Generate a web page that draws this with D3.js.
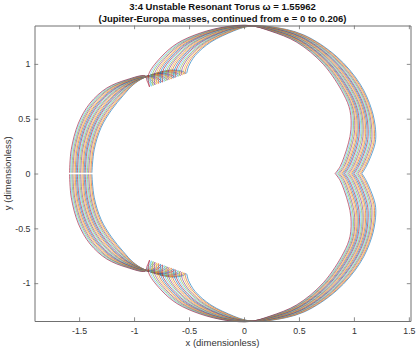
<!DOCTYPE html>
<html>
<head>
<meta charset="utf-8">
<title>3:4 Unstable Resonant Torus</title>
<script src="https://cdn.jsdelivr.net/npm/d3@7"></script>
<style>
  html, body { margin: 0; padding: 0; background: #fff; }
  svg { display: block; font-family: "Liberation Sans", Arial, sans-serif; }
</style>
</head>
<body>
<div id="chart"></div>
<script>
const titleLines = ["3:4 Unstable Resonant Torus ω = 1.55962", "(Jupiter-Europa masses, continued from e = 0 to 0.206)"];
const xLabel = "x (dimensionless)";
const yLabel = "y (dimensionless)";
const xTicks = [-1.5, -1, -0.5, 0, 0.5, 1, 1.5];
const yTicks = [-1, -0.5, 0, 0.5, 1];
const lineColors = ["#0072BD", "#D95319", "#EDB120", "#7E2F8E", "#77AC30", "#4DBEEE", "#A2142F"];

// Upper half of each orbit. Each row is one station along the
// orbit (left axis crossing -> over the top -> right cusp), with one value per family member.
const orbitX = [
  [-1.384,-1.394,-1.404,-1.414,-1.425,-1.435,-1.445,-1.455,-1.465,-1.475,-1.486,-1.496,-1.506,-1.516,-1.526,-1.536,-1.546,-1.557,-1.567,-1.577,-1.587],
  [-1.363,-1.373,-1.384,-1.394,-1.405,-1.415,-1.426,-1.436,-1.447,-1.457,-1.468,-1.478,-1.488,-1.499,-1.509,-1.520,-1.530,-1.541,-1.551,-1.562,-1.572],
  [-1.300,-1.310,-1.321,-1.331,-1.341,-1.352,-1.362,-1.372,-1.382,-1.393,-1.403,-1.413,-1.424,-1.434,-1.444,-1.455,-1.465,-1.475,-1.485,-1.496,-1.506],
  [-1.205,-1.215,-1.225,-1.234,-1.244,-1.254,-1.264,-1.273,-1.283,-1.293,-1.303,-1.312,-1.322,-1.332,-1.342,-1.351,-1.361,-1.371,-1.381,-1.390,-1.400],
  [-1.100,-1.107,-1.115,-1.122,-1.130,-1.137,-1.144,-1.152,-1.159,-1.167,-1.174,-1.181,-1.189,-1.196,-1.204,-1.211,-1.218,-1.226,-1.233,-1.241,-1.248],
  [-1.007,-1.010,-1.013,-1.016,-1.019,-1.022,-1.025,-1.028,-1.031,-1.034,-1.037,-1.039,-1.042,-1.045,-1.048,-1.051,-1.054,-1.057,-1.060,-1.063,-1.066],
  [-0.905,-0.905,-0.905,-0.904,-0.904,-0.904,-0.904,-0.903,-0.903,-0.903,-0.903,-0.902,-0.902,-0.902,-0.902,-0.901,-0.901,-0.901,-0.901,-0.900,-0.900],
  [-0.671,-0.682,-0.692,-0.703,-0.713,-0.724,-0.734,-0.745,-0.755,-0.766,-0.777,-0.787,-0.798,-0.808,-0.819,-0.829,-0.840,-0.850,-0.861,-0.871,-0.882],
  [-0.550,-0.566,-0.581,-0.597,-0.612,-0.628,-0.644,-0.659,-0.675,-0.690,-0.706,-0.722,-0.737,-0.753,-0.768,-0.784,-0.800,-0.815,-0.831,-0.846,-0.862],
  [-0.526,-0.543,-0.559,-0.576,-0.593,-0.610,-0.626,-0.643,-0.660,-0.676,-0.693,-0.710,-0.726,-0.743,-0.760,-0.777,-0.793,-0.810,-0.827,-0.843,-0.860],
  [-0.505,-0.523,-0.541,-0.560,-0.578,-0.596,-0.614,-0.632,-0.651,-0.669,-0.687,-0.705,-0.723,-0.742,-0.760,-0.778,-0.796,-0.814,-0.833,-0.851,-0.869],
  [-0.445,-0.461,-0.477,-0.493,-0.508,-0.524,-0.540,-0.556,-0.572,-0.588,-0.604,-0.619,-0.635,-0.651,-0.667,-0.683,-0.699,-0.714,-0.730,-0.746,-0.762],
  [-0.300,-0.316,-0.331,-0.347,-0.362,-0.378,-0.393,-0.409,-0.424,-0.440,-0.456,-0.471,-0.487,-0.502,-0.518,-0.533,-0.549,-0.564,-0.580,-0.595,-0.611],
  [-0.095,-0.110,-0.125,-0.141,-0.156,-0.171,-0.186,-0.201,-0.217,-0.232,-0.247,-0.262,-0.277,-0.293,-0.308,-0.323,-0.338,-0.353,-0.369,-0.384,-0.399],
  [-0.010,-0.017,-0.025,-0.032,-0.039,-0.047,-0.054,-0.061,-0.068,-0.076,-0.083,-0.090,-0.098,-0.105,-0.112,-0.120,-0.127,-0.134,-0.141,-0.149,-0.156],
  [0.066,0.066,0.065,0.065,0.064,0.064,0.063,0.063,0.062,0.062,0.061,0.061,0.060,0.060,0.059,0.059,0.058,0.058,0.057,0.057,0.056],
  [0.238,0.238,0.238,0.238,0.238,0.238,0.238,0.238,0.238,0.238,0.238,0.238,0.238,0.238,0.238,0.238,0.238,0.238,0.238,0.238,0.238],
  [0.541,0.538,0.535,0.532,0.529,0.526,0.523,0.520,0.517,0.514,0.511,0.508,0.505,0.502,0.499,0.496,0.493,0.490,0.487,0.484,0.481],
  [0.845,0.839,0.833,0.827,0.821,0.815,0.808,0.802,0.796,0.790,0.784,0.778,0.772,0.766,0.760,0.754,0.747,0.741,0.735,0.729,0.723],
  [1.057,1.049,1.042,1.034,1.027,1.019,1.011,1.004,0.996,0.989,0.981,0.973,0.966,0.958,0.951,0.943,0.935,0.928,0.920,0.913,0.905],
  [1.162,1.152,1.142,1.132,1.123,1.113,1.103,1.093,1.083,1.073,1.064,1.054,1.044,1.034,1.024,1.014,1.004,0.995,0.985,0.975,0.965],
  [1.197,1.186,1.175,1.163,1.152,1.141,1.130,1.119,1.107,1.096,1.085,1.074,1.063,1.051,1.040,1.029,1.018,1.007,0.995,0.984,0.973],
  [1.194,1.182,1.170,1.158,1.145,1.133,1.121,1.109,1.097,1.085,1.073,1.060,1.048,1.036,1.024,1.012,1.000,0.987,0.975,0.963,0.951],
  [1.153,1.141,1.129,1.117,1.105,1.093,1.081,1.069,1.057,1.045,1.033,1.020,1.008,0.996,0.984,0.972,0.960,0.948,0.936,0.924,0.912],
  [1.112,1.100,1.088,1.076,1.065,1.053,1.041,1.029,1.017,1.005,0.994,0.982,0.970,0.958,0.946,0.934,0.922,0.911,0.899,0.887,0.875],
  [1.073,1.061,1.049,1.037,1.024,1.012,1.000,0.988,0.976,0.964,0.952,0.939,0.927,0.915,0.903,0.891,0.879,0.866,0.854,0.842,0.830],
];
const orbitY = [
  [0.007,0.007,0.007,0.007,0.007,0.007,0.007,0.007,0.007,0.007,0.007,0.007,0.007,0.007,0.007,0.007,0.007,0.007,0.007,0.007,0.007],
  [0.216,0.216,0.216,0.216,0.216,0.216,0.216,0.216,0.216,0.216,0.216,0.216,0.216,0.216,0.216,0.216,0.216,0.216,0.216,0.216,0.216],
  [0.420,0.422,0.424,0.426,0.428,0.430,0.432,0.434,0.436,0.438,0.440,0.442,0.444,0.446,0.448,0.450,0.452,0.454,0.456,0.458,0.460],
  [0.580,0.583,0.586,0.589,0.593,0.596,0.599,0.602,0.605,0.608,0.612,0.615,0.618,0.621,0.624,0.627,0.630,0.634,0.637,0.640,0.643],
  [0.710,0.714,0.717,0.721,0.724,0.728,0.731,0.735,0.738,0.742,0.745,0.749,0.752,0.756,0.759,0.763,0.766,0.770,0.773,0.777,0.780],
  [0.810,0.812,0.815,0.817,0.819,0.822,0.824,0.826,0.828,0.831,0.833,0.835,0.838,0.840,0.842,0.845,0.847,0.849,0.851,0.854,0.856],
  [0.875,0.876,0.877,0.877,0.878,0.879,0.880,0.880,0.881,0.882,0.883,0.883,0.884,0.885,0.886,0.886,0.887,0.888,0.889,0.889,0.890],
  [0.944,0.939,0.934,0.929,0.924,0.919,0.914,0.909,0.904,0.899,0.895,0.890,0.885,0.880,0.875,0.870,0.865,0.860,0.855,0.850,0.845],
  [0.929,0.923,0.916,0.910,0.903,0.897,0.890,0.884,0.877,0.871,0.865,0.858,0.852,0.845,0.839,0.832,0.826,0.819,0.813,0.806,0.800],
  [0.913,0.907,0.901,0.895,0.888,0.882,0.876,0.870,0.864,0.858,0.852,0.845,0.839,0.833,0.827,0.821,0.815,0.808,0.802,0.796,0.790],
  [0.975,0.971,0.967,0.964,0.960,0.956,0.952,0.948,0.945,0.941,0.937,0.933,0.929,0.926,0.922,0.918,0.914,0.910,0.907,0.903,0.899],
  [1.075,1.074,1.073,1.072,1.071,1.070,1.069,1.068,1.067,1.066,1.065,1.063,1.062,1.061,1.060,1.059,1.058,1.057,1.056,1.055,1.054],
  [1.200,1.199,1.199,1.198,1.197,1.196,1.196,1.195,1.194,1.193,1.193,1.192,1.191,1.190,1.190,1.189,1.188,1.187,1.187,1.186,1.185],
  [1.300,1.299,1.298,1.297,1.296,1.295,1.294,1.293,1.292,1.291,1.291,1.290,1.289,1.288,1.287,1.286,1.285,1.284,1.283,1.282,1.281],
  [1.330,1.331,1.331,1.332,1.332,1.333,1.333,1.334,1.334,1.335,1.335,1.336,1.336,1.337,1.337,1.338,1.338,1.339,1.339,1.340,1.340],
  [1.345,1.345,1.345,1.346,1.346,1.346,1.346,1.346,1.347,1.347,1.347,1.347,1.347,1.348,1.348,1.348,1.348,1.348,1.349,1.349,1.349],
  [1.340,1.338,1.336,1.334,1.332,1.330,1.328,1.326,1.324,1.322,1.320,1.318,1.316,1.314,1.312,1.310,1.308,1.306,1.304,1.302,1.300],
  [1.265,1.262,1.258,1.255,1.251,1.248,1.245,1.241,1.238,1.234,1.231,1.228,1.224,1.221,1.217,1.214,1.211,1.207,1.204,1.200,1.197],
  [1.065,1.062,1.058,1.055,1.051,1.048,1.044,1.041,1.037,1.034,1.030,1.027,1.023,1.020,1.016,1.013,1.009,1.006,1.002,0.999,0.995],
  [0.815,0.811,0.806,0.802,0.797,0.793,0.788,0.784,0.779,0.775,0.770,0.766,0.761,0.757,0.752,0.748,0.743,0.739,0.734,0.730,0.725],
  [0.582,0.582,0.581,0.581,0.580,0.580,0.579,0.579,0.578,0.578,0.577,0.577,0.576,0.576,0.575,0.575,0.574,0.574,0.573,0.573,0.572],
  [0.400,0.400,0.400,0.400,0.400,0.400,0.400,0.400,0.400,0.400,0.400,0.400,0.400,0.400,0.400,0.400,0.400,0.400,0.400,0.400,0.400],
  [0.280,0.280,0.280,0.280,0.280,0.280,0.280,0.280,0.280,0.280,0.280,0.280,0.280,0.280,0.280,0.280,0.280,0.280,0.280,0.280,0.280],
  [0.155,0.155,0.155,0.155,0.155,0.155,0.155,0.155,0.155,0.155,0.155,0.155,0.155,0.155,0.155,0.155,0.155,0.155,0.155,0.155,0.155],
  [0.064,0.064,0.064,0.064,0.064,0.064,0.064,0.064,0.064,0.064,0.064,0.064,0.064,0.064,0.064,0.064,0.064,0.064,0.064,0.064,0.064],
  [0,0,0,0,0,0,0,0,0,0,0,0,0,0,0,0,0,0,0,0,0],
];

const width = 416;
const height = 351;
const margin = { top: 25.5, right: 5.5, bottom: 30, left: 34.5 };
const inner = { w: width - margin.left - margin.right, h: height - margin.top - margin.bottom };
const axisColor = "#707070";

const svg = d3.select("#chart").append("svg")
  .attr("width", width)
  .attr("height", height)
  .attr("viewBox", [0, 0, width, height]);

const g = svg.append("g").attr("transform", `translate(${margin.left},${margin.top})`);

const x = d3.scaleLinear().domain([-1.906, 1.515]).range([0, inner.w]);
const y = d3.scaleLinear().domain([-1.345, 1.35]).range([inner.h, 0]);

const line = d3.line()
  .x((d) => x(d[0]))
  .y((d) => y(d[1]))
  .curve(d3.curveCatmullRom.alpha(0.5));

// Orbits, upper half plus its mirror image below the x axis.
orbitX[0].forEach((_, i) => {
  const upper = orbitX.map((row, k) => [row[i], orbitY[k][i]]);
  const lower = upper.map((p) => [p[0], -p[1]]);
  const color = lineColors[i % lineColors.length];
  [upper, lower].forEach((pts) => {
    g.append("path")
      .attr("d", line(pts))
      .attr("fill", "none")
      .attr("stroke", color)
      .attr("stroke-width", 1)
      .attr("stroke-opacity", 0.62);
  });
});

// Box with inward ticks on all four sides, labels only on bottom and left.
const tick = 3.7;
function styleAxis(sel) {
  sel.selectAll("path").attr("stroke", axisColor).attr("stroke-width", 1);
  sel.selectAll("line").attr("stroke", axisColor).attr("stroke-width", 0.8);
  sel.selectAll("text").attr("fill", "#333").attr("font-size", "8.8px");
}

g.append("g").attr("transform", `translate(0,${inner.h})`)
  .call(d3.axisBottom(x).tickValues(xTicks).tickFormat(String).tickSizeInner(-tick).tickSizeOuter(0).tickPadding(7))
  .call(styleAxis);
g.append("g")
  .call(d3.axisTop(x).tickValues(xTicks).tickFormat("").tickSizeInner(-tick).tickSizeOuter(0))
  .call(styleAxis);
g.append("g")
  .call(d3.axisLeft(y).tickValues(yTicks).tickFormat(String).tickSizeInner(-tick).tickSizeOuter(0).tickPadding(4))
  .call(styleAxis);
g.append("g").attr("transform", `translate(${inner.w},0)`)
  .call(d3.axisRight(y).tickValues(yTicks).tickFormat("").tickSizeInner(-tick).tickSizeOuter(0))
  .call(styleAxis);

// Title and axis labels.
svg.selectAll("text.title").data(titleLines).join("text")
  .attr("class", "title")
  .attr("x", margin.left + inner.w / 2)
  .attr("y", (d, i) => 10 + i * 11.6)
  .attr("text-anchor", "middle")
  .attr("font-size", "9.5px")
  .attr("font-weight", "bold")
  .attr("fill", "#111")
  .text((d) => d);

svg.append("text")
  .attr("x", margin.left + inner.w / 2)
  .attr("y", 346)
  .attr("text-anchor", "middle")
  .attr("font-size", "9.5px")
  .attr("fill", "#333")
  .text(xLabel);

svg.append("text")
  .attr("transform", `translate(10.5,${margin.top + inner.h / 2}) rotate(-90)`)
  .attr("text-anchor", "middle")
  .attr("font-size", "9.5px")
  .attr("fill", "#333")
  .text(yLabel);
</script>
</body>
</html>
